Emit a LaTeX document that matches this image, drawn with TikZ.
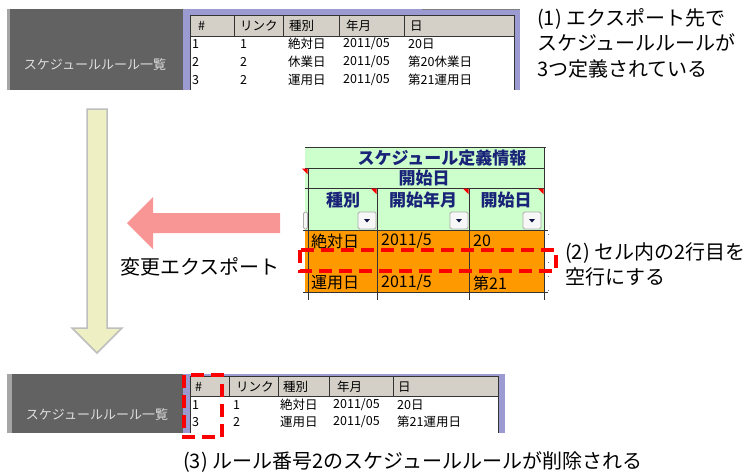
\documentclass[tikz,border=0pt]{standalone}
\usepackage{fontspec}
\setmainfont{Noto Sans CJK JP}
\definecolor{dkgray}{RGB}{98,98,98}
\definecolor{edgegray}{RGB}{165,165,165}
\definecolor{boxtext}{RGB}{222,222,222}
\definecolor{lav}{RGB}{155,155,210}
\definecolor{hdrgray}{RGB}{212,208,200}
\definecolor{grn}{RGB}{204,255,204}
\definecolor{org}{RGB}{255,153,0}
\definecolor{navy}{RGB}{25,35,120}
\definecolor{pinkar}{RGB}{248,150,150}
\definecolor{yelar}{RGB}{239,239,196}
\definecolor{yeledge}{RGB}{190,190,190}
\definecolor{dashred}{RGB}{250,0,0}
\tikzset{
  boxlbl/.style={inner sep=0pt, text=boxtext, font=\fontsize{13}{15}\selectfont},
  cell/.style={anchor=west, inner sep=0pt, font=\fontsize{12.5}{14}\selectfont},
  hdr/.style={inner sep=0pt, text=navy, font=\fontsize{17}{19}\selectfont\bfseries},
  dat/.style={anchor=west, inner sep=0pt, font=\fontsize{16}{18}\selectfont},
  ann/.style={anchor=west, inner sep=0pt, align=left, font=\fontsize{20}{25.5}\selectfont},
  reddash/.style={draw=dashred, line width=4.5pt, dash pattern=on 13pt off 7pt},
  ddbtn/.style={fill=gray!6, draw=gray!65, line width=0.8pt, rounded corners=1.5pt},
  tabline/.style={draw=black!80, line width=0.9pt},
}
\begin{document}
\begin{tikzpicture}[x=1pt,y=-1pt]
\useasboundingbox (0,0) rectangle (755,475);
\fill[white] (0,0) rectangle (755,475);

% ---------- top screenshot ----------
\fill[dkgray] (7,9) rectangle (183,90);
\fill[edgegray] (7,9) rectangle (9.5,90);
\node[boxlbl] (tlist) at (95,65) {スケジュールルール一覧};
\fill[lav] (183,9) rectangle (520,90);
\fill[white] (190,15) rectangle (514,90);
\draw[gray, line width=1.2pt] (422,9.6) -- (520,9.6);
\fill[hdrgray] (190,15.5) rectangle (514,36);
\draw[tabline] (190.5,90) -- (190.5,15.5) -- (514,15.5) -- (514,90);
\draw[tabline] (190.5,36) -- (514,36);
\foreach \x in {234,283,339,404} \draw[tabline] (\x,15.5) -- (\x,36);
\node[cell] (th1) at (198,26) {\#};
\node[cell] (th2) at (240,26) {リンク};
\node[cell] (th3) at (289,26) {種別};
\node[cell] (th4) at (346,26) {年月};
\node[cell] (th5) at (410,26) {日};
\node[cell] (ta1) at (192,44) {1};
\node[cell] (ta2) at (240,44) {1};
\node[cell] (ta3) at (288,44) {絶対日};
\node[cell] (ta4) at (343,44) {2011/05};
\node[cell] (ta5) at (408,44) {20日};
\node[cell] (tb1) at (192,62) {2};
\node[cell] (tb2) at (240,62) {2};
\node[cell] (tb3) at (288,62) {休業日};
\node[cell] (tb4) at (343,62) {2011/05};
\node[cell] (tb5) at (408,62) {第20休業日};
\node[cell] (tc1) at (192,80) {3};
\node[cell] (tc2) at (240,80) {2};
\node[cell] (tc3) at (288,80) {運用日};
\node[cell] (tc4) at (343,80) {2011/05};
\node[cell] (tc5) at (408,80) {第21運用日};

\node[ann] (note1) at (537,43) {(1) エクスポート先で\\スケジュールルールが\\3つ定義されている};

% ---------- yellow down arrow ----------
\draw[fill=yelar, draw=yeledge, line width=1.5pt, line join=miter]
  (87,109) -- (107,109) -- (107,328) -- (122,328) -- (97,353) -- (72,328) -- (87,328) -- cycle;

% ---------- middle table ----------
\fill[grn] (305,147) rectangle (545,230);
\fill[org] (305,230) rectangle (544,292);
\draw[tabline] (305,147) -- (546,147);
\draw[tabline] (305,168) -- (544,168);
\draw[tabline] (305,188) -- (544,188);
\draw[tabline] (303,230) -- (548,230);
\draw[tabline] (303,292) -- (548,292);
\draw[tabline] (308,168) -- (308,300);
\draw[tabline] (377,188) -- (377,300);
\draw[tabline] (469,188) -- (469,300);
\draw[tabline] (544.5,147) -- (544.5,300);
\draw[gray, line width=0.8pt, dash pattern=on 1pt off 13pt] (548,234) -- (548,292);
\fill[red] (302,168.5) -- (307.5,168.5) -- (307.5,174) -- cycle;
\fill[red] (371,188.5) -- (376.5,188.5) -- (376.5,194) -- cycle;
\fill[red] (463,188.5) -- (468.5,188.5) -- (468.5,194) -- cycle;
\fill[red] (538,188.5) -- (543.5,188.5) -- (543.5,194) -- cycle;
\node[hdr] (mtitle) at (442,158) {スケジュール定義情報};
\node[hdr] (mstart) at (424,178) {開始日};
\node[hdr] (mh1) at (343,200) {種別};
\node[hdr] (mh2) at (423,200) {開始年月};
\node[hdr] (mh3) at (506,200) {開始日};
\draw[ddbtn] (303.5,212) rectangle (307.5,229);
\foreach \bx in {358,450,523} {
  \draw[ddbtn] (\bx,212) rectangle (\bx+18,229);
  \fill[navy!60!black] (\bx+6,219) -- (\bx+12,219) -- (\bx+9,222.5) -- cycle;
}
\node[dat] (md1) at (311,241) {絶対日};
\node[dat] (md2) at (381,241) {2011/5};
\node[dat] (md3) at (473,241) {20};
\node[dat] (md4) at (311,283) {運用日};
\node[dat] (md5) at (381,283) {2011/5};
\node[dat] (md6) at (473,283) {第21};
\draw[reddash] (300,250) rectangle (556,271);
\node[ann, font=\fontsize{20}{25}\selectfont] (note2) at (565,264) {(2) セル内の2行目を\\空行にする};

% ---------- pink left arrow ----------
\fill[pinkar] (280,213) -- (153,213) -- (153,197) -- (127,223) -- (153,249) -- (153,233) -- (280,233) -- cycle;
\node[ann] (export) at (120,267) {変更エクスポート};

% ---------- bottom screenshot ----------
\fill[dkgray] (7,374) rectangle (183,433);
\fill[edgegray] (7,374) rectangle (12,433);
\node[boxlbl] (blist) at (97,415) {スケジュールルール一覧};
\fill[lav] (183,374) rectangle (505,433);
\fill[white] (190,376) rectangle (498,433);
\fill[hdrgray] (190,376.5) rectangle (498,396);
\draw[tabline] (190.5,433) -- (190.5,376.5) -- (498,376.5) -- (498,433);
\draw[tabline] (190.5,396) -- (498,396);
\foreach \x in {229,278,329,393} \draw[tabline] (\x,376.5) -- (\x,396);
\node[cell] (bh1) at (195,387) {\#};
\node[cell] (bh2) at (236,387) {リンク};
\node[cell] (bh3) at (283,387) {種別};
\node[cell] (bh4) at (337,387) {年月};
\node[cell] (bh5) at (398,387) {日};
\node[cell] (ba1) at (192,405) {1};
\node[cell] (ba2) at (233,405) {1};
\node[cell] (ba3) at (280,405) {絶対日};
\node[cell] (ba4) at (333,405) {2011/05};
\node[cell] (ba5) at (397,405) {20日};
\node[cell] (bb1) at (192,422) {3};
\node[cell] (bb2) at (233,422) {2};
\node[cell] (bb3) at (280,422) {運用日};
\node[cell] (bb4) at (333,422) {2011/05};
\node[cell] (bb5) at (397,422) {第21運用日};
\draw[reddash] (184,375) rectangle (222,437);

\node[ann] (note3) at (183,462) {(3) ルール番号2のスケジュールルールが削除される};
\end{tikzpicture}
\end{document}
